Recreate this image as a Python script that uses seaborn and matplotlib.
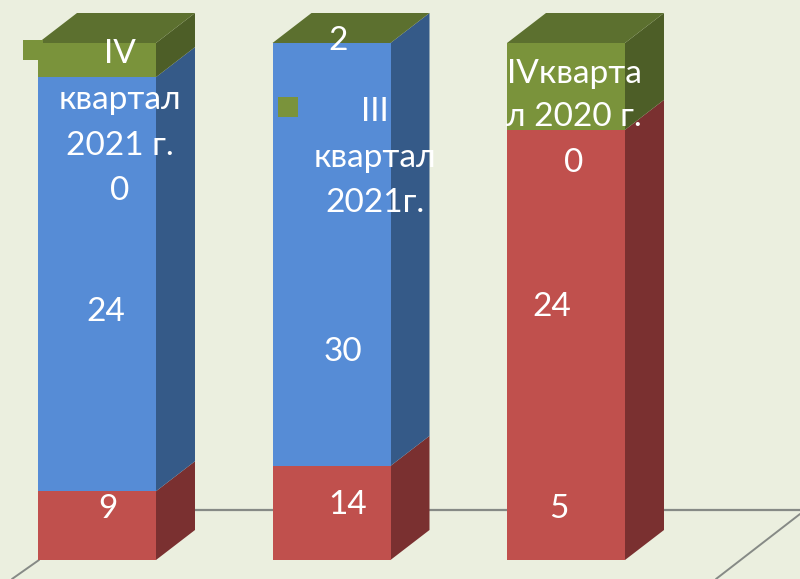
import pandas as pd
import seaborn as sns
import matplotlib
matplotlib.use('Agg')
import matplotlib.pyplot as plt

# share of the column height
quarters = ['IV квартал 2021 г.', 'III квартал 2021г.', 'IV квартал 2020 г.']
red_share = [13.3, 18.2, 83.2]
blue_share = [80.1, 81.8, 0.0]
green_share = [6.6, 0.0, 16.8]

# numbers printed on the columns
red_labels = ['9', '14', '5']
blue_labels = ['24', '30', '24']
green_labels = ['0', '2', '0']
name_labels = [['IV', 'квартал', '2021 г.'], ['III', 'квартал', '2021г.'],
               ['IVкварта', 'л 2020 г.']]

BG = '#EBEFDF'
FRONT = {'red': '#C0504D', 'blue': '#568CD6', 'green': '#7A933B'}
SIDE = {'red': '#7A3030', 'blue': '#355A88', 'green': '#4D5E27'}
TOP = '#5C702F'
LINE = '#868A86'

W, H = 800, 579
STEP = 234.5      # pixels between columns
UNIT = 5.17       # pixels per percent
BASE_X, BASE_Y = 97, 560
BAR_W = 118 / STEP
DX, DY = 39 / STEP, 30 / UNIT

sns.set_theme(style='white')
plt.rcParams['font.family'] = ['Lato', 'DejaVu Sans']


def side_and_top(ax, x, bottom, height, name):
    right = x + BAR_W / 2
    if height > 0:
        ax.fill([right, right + DX, right + DX, right],
                [bottom, bottom + DY, bottom + height + DY, bottom + height],
                color=SIDE[name], lw=0, zorder=3)


def put_text(ax, px, py, s):
    ax.text(px / W, 1 - py / H, s, transform=ax.transAxes, color='white',
            fontsize=24, ha='center', va='center', zorder=6)


def floor_line(ax, x0, y0, x1, y1, lw):
    ax.plot([x0 / W, x1 / W], [1 - y0 / H, 1 - y1 / H], color=LINE, lw=lw,
            transform=ax.transAxes, zorder=1)


data = pd.DataFrame({'quarter': quarters, 'red': red_share,
                     'blue': blue_share, 'green': green_share})
data['blue_bottom'] = data['red']
data['green_bottom'] = data['red'] + data['blue']

fig = plt.figure(figsize=(W / 100, H / 100), dpi=100, facecolor=BG)
ax = fig.add_axes([0, 0, 1, 1])
ax.set_facecolor(BG)

sns.barplot(data=data, x='quarter', y='red', color=FRONT['red'], saturation=1,
            width=BAR_W, linewidth=0, ax=ax, zorder=4)
sns.barplot(data=data, x='quarter', y='blue', bottom=data['blue_bottom'],
            color=FRONT['blue'], saturation=1, width=BAR_W, linewidth=0,
            ax=ax, zorder=4)
sns.barplot(data=data, x='quarter', y='green', bottom=data['green_bottom'],
            color=FRONT['green'], saturation=1, width=BAR_W, linewidth=0,
            ax=ax, zorder=4)

for i in range(len(quarters)):
    side_and_top(ax, i, 0, red_share[i], 'red')
    side_and_top(ax, i, red_share[i], blue_share[i], 'blue')
    side_and_top(ax, i, red_share[i] + blue_share[i], green_share[i], 'green')
    total = red_share[i] + blue_share[i] + green_share[i]
    left = i - BAR_W / 2
    ax.fill([left, left + BAR_W, left + BAR_W + DX, left + DX],
            [total, total, total + DY, total + DY], color=TOP, lw=0, zorder=3)

ax.set_xlim(-BASE_X / STEP, (W - BASE_X) / STEP)
ax.set_ylim(-(H - BASE_Y) / UNIT, BASE_Y / UNIT)
ax.set_xlabel('')
ax.set_ylabel('')
ax.set_xticks([])
ax.set_yticks([])
for s in ax.spines.values():
    s.set_visible(False)

# floor of the 3D box
floor_line(ax, 195, 509.5, 800, 509.5, 1.6)
floor_line(ax, 39, 560, 12, 579, 1.4)
floor_line(ax, 800, 514, 716, 579, 1.4)

# legend keys left over inside the labels
for px, py in [(32.5, 49.5), (287.5, 106.5)]:
    ax.scatter(px / W, 1 - py / H, marker='s', s=210, color=FRONT['green'],
               linewidths=0, transform=ax.transAxes, zorder=5)

for i, (px, py) in enumerate([(108, 509), (348, 505), (559, 509)]):
    put_text(ax, px, py, red_labels[i])
for i, (px, py) in enumerate([(106, 312), (343, 352), (552, 307)]):
    put_text(ax, px, py, blue_labels[i])
for i, (px, py) in enumerate([(120, 191), (338, 41), (574, 163)]):
    put_text(ax, px, py, green_labels[i])

name_rows = [[(120, 54), (120, 100), (120, 146)],
             [(375, 112), (375, 158), (375, 203)],
             [(574, 74), (574, 117)]]
for lines, rows in zip(name_labels, name_rows):
    for s, (px, py) in zip(lines, rows):
        put_text(ax, px, py, s)

fig.savefig('out.png', dpi=100, facecolor=BG)
